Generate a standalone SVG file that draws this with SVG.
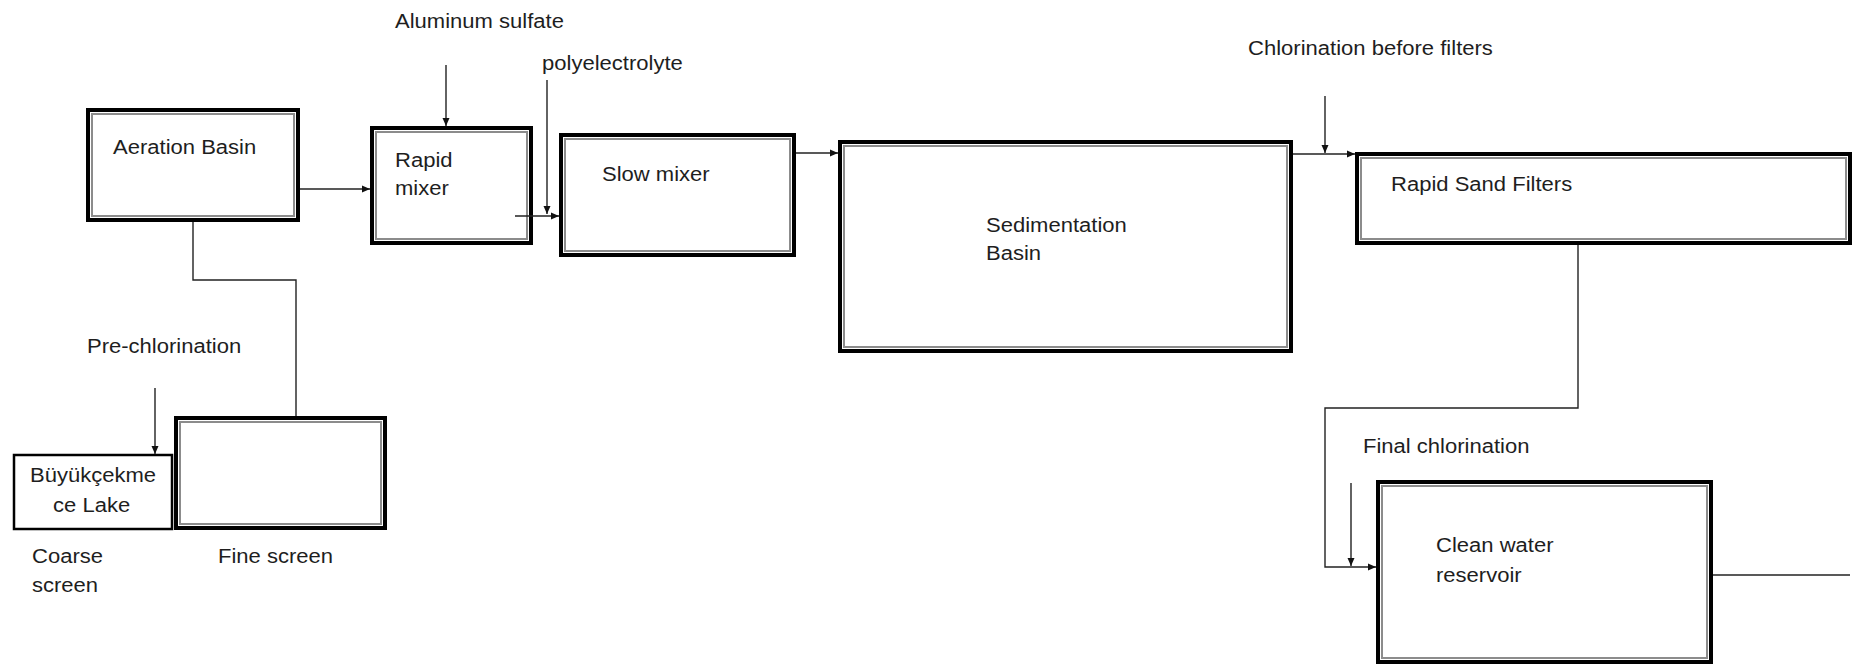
<svg xmlns="http://www.w3.org/2000/svg" width="1854" height="666" viewBox="0 0 1854 666">
<defs>
<style>
.o{fill:#fff;stroke:#000;stroke-width:4}
.i{fill:none;stroke:#8c8c8c;stroke-width:2}
.s{fill:#fff;stroke:#000;stroke-width:2.5}
.c{fill:none;stroke:#222;stroke-width:1.4}
.t{font-family:"Liberation Sans",Arial,sans-serif;font-size:19.5px;fill:#1e1e1e}
</style>
<marker id="ah" markerUnits="userSpaceOnUse" markerWidth="9" markerHeight="9" refX="8" refY="4" orient="auto">
<path d="M0,0.5 L8,4 L0,7.5 z" fill="#111"/>
</marker>
</defs>
<rect width="1854" height="666" fill="#fff"/>

<g id="aeration">
<rect class="o" x="88" y="110" width="210" height="110"/>
<rect class="i" x="92" y="114" width="202" height="102"/>
<text class="t" transform="translate(113,154) scale(1.13,1)">Aeration Basin</text>
</g>

<g id="rapid-mixer">
<rect class="o" x="372" y="128" width="159" height="115"/>
<rect class="i" x="376" y="132" width="151" height="107"/>
<text class="t" transform="translate(395,167) scale(1.13,1)">Rapid</text>
<text class="t" transform="translate(395,195) scale(1.13,1)">mixer</text>
</g>

<g id="slow-mixer">
<rect class="o" x="561" y="135" width="233" height="120"/>
<rect class="i" x="565" y="139" width="225" height="112"/>
<text class="t" transform="translate(602,181) scale(1.13,1)">Slow mixer</text>
</g>

<g id="sedimentation">
<rect class="o" x="840" y="142" width="451" height="209"/>
<rect class="i" x="844" y="146" width="443" height="201"/>
<text class="t" transform="translate(986,232) scale(1.13,1)">Sedimentation</text>
<text class="t" transform="translate(986,260) scale(1.13,1)">Basin</text>
</g>

<g id="rapid-sand-filters">
<rect class="o" x="1357" y="154" width="493" height="89"/>
<rect class="i" x="1361" y="158" width="485" height="81"/>
<text class="t" transform="translate(1391,191) scale(1.13,1)">Rapid Sand Filters</text>
</g>

<g id="clean-water">
<rect class="o" x="1378" y="482" width="333" height="180"/>
<rect class="i" x="1382" y="486" width="325" height="172"/>
<text class="t" transform="translate(1436,552) scale(1.13,1)">Clean water</text>
<text class="t" transform="translate(1436,582) scale(1.13,1)">reservoir</text>
</g>

<g id="lake">
<rect class="s" x="14" y="455" width="158" height="74"/>
<text class="t" transform="translate(30,482) scale(1.13,1)">Büyükçekme</text>
<text class="t" transform="translate(53,512) scale(1.13,1)">ce Lake</text>
</g>

<g id="fine-screen">
<rect class="o" x="176" y="418" width="209" height="110"/>
<rect class="i" x="180" y="422" width="201" height="102"/>
</g>

<g id="labels">
<text class="t" transform="translate(395,28) scale(1.13,1)">Aluminum sulfate</text>
<text class="t" transform="translate(542,70) scale(1.13,1)">polyelectrolyte</text>
<text class="t" transform="translate(1248,55) scale(1.13,1)">Chlorination before filters</text>
<text class="t" transform="translate(1363,453) scale(1.13,1)">Final chlorination</text>
<text class="t" transform="translate(87,353) scale(1.13,1)">Pre-chlorination</text>
<text class="t" transform="translate(32,563) scale(1.13,1)">Coarse</text>
<text class="t" transform="translate(32,592) scale(1.13,1)">screen</text>
<text class="t" transform="translate(218,563) scale(1.13,1)">Fine screen</text>
</g>

<g id="connectors">
<path class="c" d="M300,189 H370" marker-end="url(#ah)"/>
<path class="c" d="M446,65 V126" marker-end="url(#ah)"/>
<path class="c" d="M515,216 H559" marker-end="url(#ah)"/>
<path class="c" d="M547,80 V214" marker-end="url(#ah)"/>
<path class="c" d="M796,153 H838" marker-end="url(#ah)"/>
<path class="c" d="M1293,154 H1355" marker-end="url(#ah)"/>
<path class="c" d="M1325,96 V153" marker-end="url(#ah)"/>
<path class="c" d="M1578,245 V408 H1325 V567 H1376" marker-end="url(#ah)"/>
<path class="c" d="M1351,483 V566" marker-end="url(#ah)"/>
<path class="c" d="M1713,575 H1850" stroke="#555"/>
<path class="c" d="M193,222 V280 H296 V416"/>
<path class="c" d="M155,388 V454" marker-end="url(#ah)"/>
</g>
</svg>
